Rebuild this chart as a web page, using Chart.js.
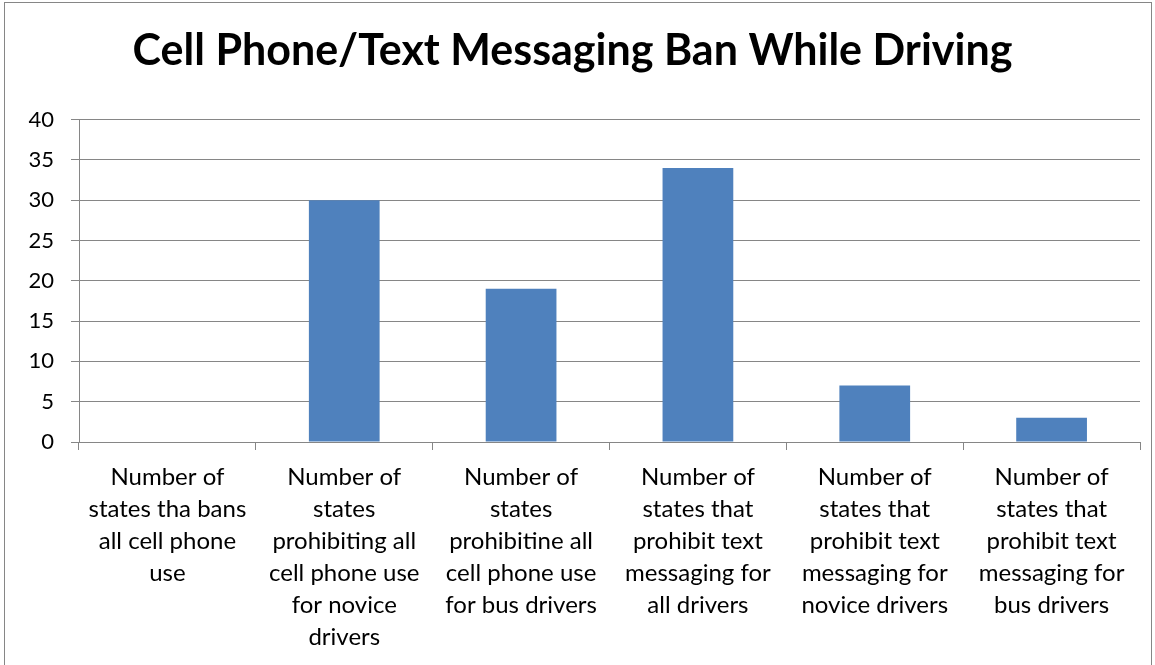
<!DOCTYPE html>
<html>
<head>
<meta charset="utf-8">
<script src="https://cdn.jsdelivr.net/npm/chart.js@4"></script>
<style>
  html, body { margin: 0; padding: 0; background: #fff; overflow: hidden; }
  #frame { position: absolute; left: 4px; top: 2px; width: 1148px; height: 700px; border: 1px solid #868686; box-sizing: border-box; }
  #wrap { position: absolute; left: 0; top: 0; width: 1146px; height: 662px; }
</style>
</head>
<body>
<div id="frame"><div id="wrap"><canvas id="c"></canvas></div></div>
<script>
const titleText = "Cell Phone/Text Messaging Ban While Driving";
const categories = [
  ["Number of", "states tha bans", "all cell phone", "use"],
  ["Number of", "states", "prohibiting all", "cell phone use", "for novice", "drivers"],
  ["Number of", "states", "prohibitine all", "cell phone use", "for bus drivers"],
  ["Number of", "states that", "prohibit text", "messaging for", "all drivers"],
  ["Number of", "states that", "prohibit text", "messaging for", "novice drivers"],
  ["Number of", "states that", "prohibit text", "messaging for", "bus drivers"]
];
const values = [0, 30, 19, 34, 7, 3];
const yTicks = [0, 5, 10, 15, 20, 25, 30, 35, 40];

const FONT = "Lato, 'Open Sans', sans-serif";
const GRID = "#868686";

new Chart(document.getElementById("c"), {
  type: "bar",
  data: {
    labels: categories,
    datasets: [{
      data: values,
      backgroundColor: "#4F81BD",
      borderWidth: 0,
      categoryPercentage: 1.0,
      barPercentage: 0.4
    }]
  },
  options: {
    responsive: true,
    maintainAspectRatio: false,
    animation: false,
    layout: { padding: { left: 0, right: 11, top: 0, bottom: 1 } },
    plugins: {
      legend: { display: false },
      tooltip: { enabled: false },
      title: {
        display: true,
        text: titleText,
        color: "#000",
        font: { family: FONT, size: 43, weight: "bold", lineHeight: 1.2 },
        padding: { top: 22, bottom: 43 }
      }
    },
    scales: {
      y: {
        min: 0, max: 40,
        afterBuildTicks: (axis) => { axis.ticks = yTicks.map(v => ({ value: v })); },
        afterFit: (axis) => { axis.width = 74; },
        ticks: { color: "#000", font: { family: FONT, size: 22 }, padding: 17 },
        grid: { color: GRID, lineWidth: 1, tickLength: 8, drawTicks: true },
        border: { color: GRID, width: 1 }
      },
      x: {
        ticks: {
          color: "#000",
          font: { family: FONT, size: 24, lineHeight: 32 / 24 },
          maxRotation: 0, minRotation: 0, autoSkip: false, padding: 11
        },
        grid: { display: true, drawOnChartArea: false, drawTicks: true, tickLength: 8, color: GRID, offset: true },
        border: { color: GRID, width: 1 }
      }
    }
  }
});
</script>
</body>
</html>
